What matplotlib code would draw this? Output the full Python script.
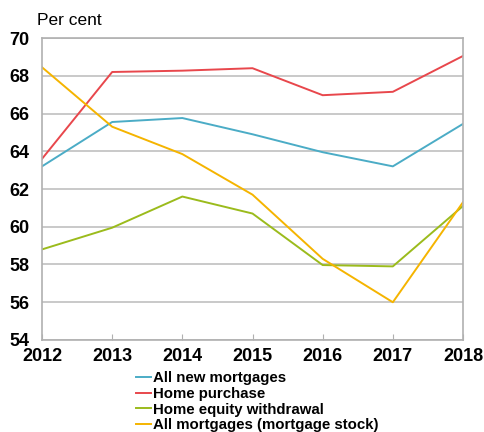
import matplotlib.pyplot as plt

# 年份与各类贷款比例（%）
years = [2012, 2013, 2014, 2015, 2016, 2017, 2018]
all_new = [63.2, 65.55, 65.76, 64.9, 63.95, 63.2, 65.45]
home_purchase = [63.6, 68.2, 68.27, 68.4, 66.97, 67.15, 69.05]
equity_withdrawal = [58.8, 59.95, 61.6, 60.7, 57.97, 57.9, 61.1]
all_stock = [68.45, 65.3, 63.85, 61.7, 58.3, 56.0, 61.3]

labels = ['All new mortgages', 'Home purchase',
          'Home equity withdrawal', 'All mortgages (mortgage stock)']
colors = ['#4BACC6', '#E8474C', '#9BBB1C', '#F5B400']

plt.rcParams['font.family'] = ['Liberation Sans', 'DejaVu Sans']

fig = plt.figure(figsize=(4.84, 4.32), dpi=100)
ax = fig.add_axes([0.0868, 0.213, 0.8698, 0.699])

series = [all_new, home_purchase, equity_withdrawal, all_stock]
for vals, lab, c in zip(series, labels, colors):
    ax.plot(years, vals, color=c, linewidth=1.4, label=lab)

ax.set_xlim(2012, 2018)
ax.set_ylim(54, 70)
ax.set_xticks(years)
ax.set_yticks(range(54, 71, 2))
ax.yaxis.grid(True, color='#C0C0C0', linewidth=1.2)
ax.set_axisbelow(True)
for s in ax.spines.values():
    s.set_color('#B0B0B0')
    s.set_linewidth(1.2)
ax.tick_params(axis='y', length=0, labelsize=13, pad=9)
ax.tick_params(axis='x', length=4, color='#B0B0B0', direction='in',
               labelsize=13, pad=6)
for t in ax.get_xticklabels() + ax.get_yticklabels():
    t.set_fontweight('bold')

fig.text(0.076, 0.942, 'Per cent', fontsize=12.5)

# 图例放在图表下方
fig.legend(loc='upper left', bbox_to_anchor=(0.28, 0.141), frameon=False,
           handlelength=1.0, handletextpad=0.15, labelspacing=0.12,
           borderaxespad=0, borderpad=0,
           prop={'weight': 'bold', 'size': 10.8})

fig.savefig('out.png', dpi=100)
